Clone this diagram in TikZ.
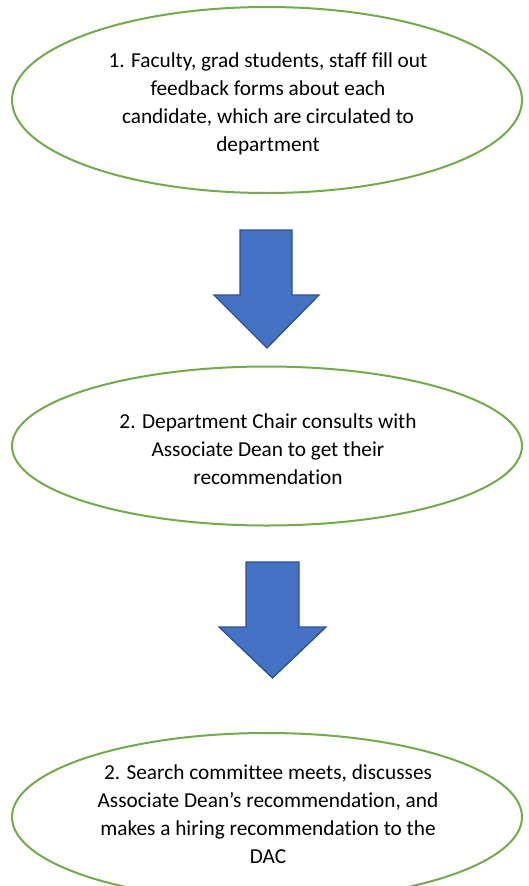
\documentclass[tikz,border=0pt]{standalone}
\usepackage{fontspec}
\setmainfont[Ligatures=NoCommon]{Carlito}
\usetikzlibrary{shapes.geometric}
\definecolor{stepgreen}{HTML}{70AD47}
\definecolor{arrowblue}{HTML}{4472C4}
\definecolor{arrowedge}{HTML}{2F528F}
\tikzset{
  stepoval/.style={draw=stepgreen, line width=2pt, ellipse, inner sep=0pt},
  steptext/.style={inner sep=0pt, align=center, font=\fontsize{21.3}{28}\selectfont, text=black},
  blockarrow/.style={fill=arrowblue, draw=arrowedge, line width=1.3pt, line join=miter}
}
\begin{document}
\begin{tikzpicture}[x=1pt,y=-1pt]
\useasboundingbox (0,0) rectangle (528,886);
\clip (0,0) rectangle (528,886);
\fill[white] (0,0) rectangle (528,886);
\node[stepoval, minimum width=510pt, minimum height=186pt] (s1) at (267,100) {};
\node[steptext] (t1) at (268,104)
  {1. Faculty, grad students, staff fill out\\feedback forms about each\\candidate, which are circulated to\\department};
\node[stepoval, minimum width=510pt, minimum height=159pt] (s2) at (267,446) {};
\node[steptext] (t2) at (268,449)
  {2. Department Chair consults with\\Associate Dean to get their\\recommendation};
\node[stepoval, minimum width=510pt, minimum height=168pt] (s3) at (267,817) {};
\node[steptext] (t3) at (268,814.5)
  {2. Search committee meets, discusses\\Associate Dean’s recommendation, and\\makes a hiring recommendation to the\\DAC};
\draw[blockarrow] (240,230) -- (292,230) -- (292,295) -- (319,295) -- (267,348)
  -- (214,295) -- (240,295) -- cycle;
\draw[blockarrow] (246,562) -- (299,562) -- (299,627) -- (326,627) -- (272.5,678)
  -- (219,627) -- (246,627) -- cycle;
\end{tikzpicture}
\end{document}
